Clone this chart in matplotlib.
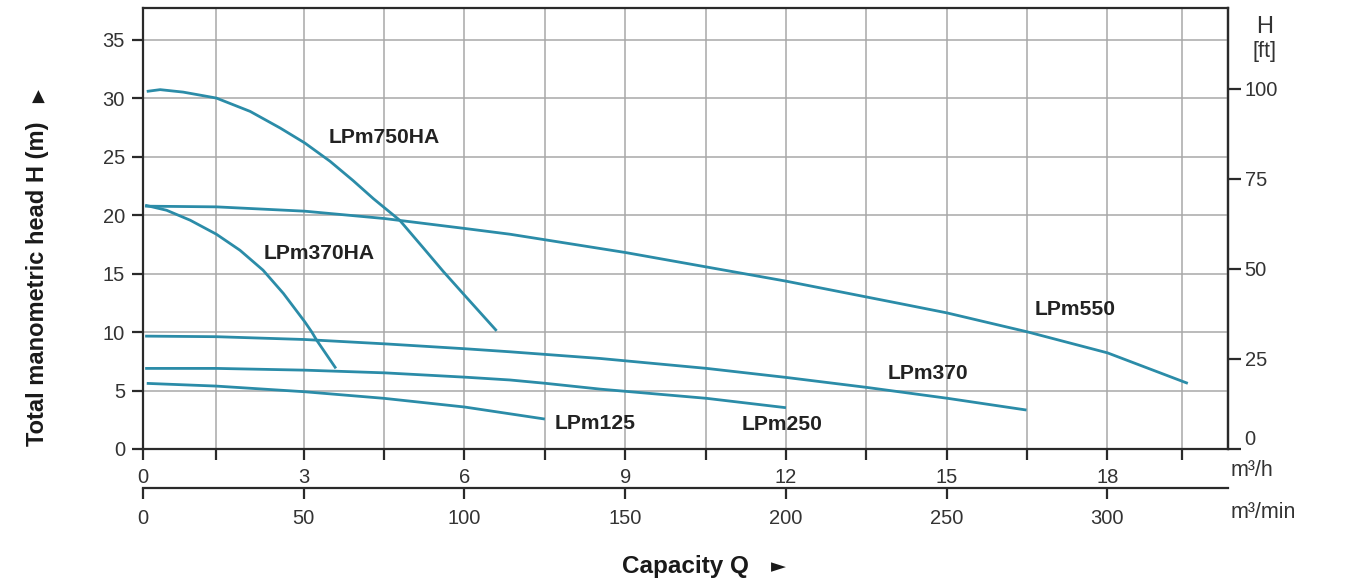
import matplotlib
matplotlib.use("Agg")
import matplotlib.pyplot as plt

plt.rcParams['font.family'] = ['Liberation Sans', 'DejaVu Sans']

# ---- data ----
lpm750ha_q = [0.07, 0.32, 0.75, 1.37, 2.0, 2.56, 3.02, 3.49, 3.92, 4.30, 4.79, 5.23, 5.60, 6.01, 6.6]
lpm750ha_h = [30.57, 30.72, 30.51, 30.0, 28.86, 27.44, 26.16, 24.6, 22.95, 21.4, 19.56, 17.2, 15.2, 13.1, 10.1]

lpm370ha_q = [0.04, 0.44, 0.88, 1.37, 1.81, 2.24, 2.62, 3.02, 3.15, 3.24, 3.60]
lpm370ha_h = [20.84, 20.41, 19.56, 18.36, 16.99, 15.29, 13.3, 10.87, 10.0, 9.31, 6.89]

lpm550_q = [0.04, 1.37, 3.02, 4.51, 6.01, 6.85, 9.0, 12.0, 14.12, 15.0, 16.5, 18.0, 19.5]
lpm550_h = [20.76, 20.7, 20.33, 19.7, 18.85, 18.36, 16.8, 14.35, 12.44, 11.64, 10.02, 8.22, 5.61]

lpm370_q = [0.04, 1.37, 3.02, 4.51, 6.01, 6.85, 8.53, 10.52, 12.0, 13.5, 15.02, 16.49]
lpm370_h = [9.65, 9.6, 9.36, 8.99, 8.57, 8.31, 7.74, 6.89, 6.12, 5.27, 4.33, 3.33]

lpm250_q = [0.04, 1.37, 3.02, 4.51, 6.01, 6.85, 7.5, 8.53, 10.52, 12.0]
lpm250_h = [6.89, 6.89, 6.74, 6.51, 6.14, 5.9, 5.62, 5.12, 4.33, 3.53]

lpm125_q = [0.07, 1.36, 3.0, 4.5, 6.0, 7.5]
lpm125_h = [5.61, 5.38, 4.9, 4.33, 3.59, 2.56]

series_names = ['LPm750HA', 'LPm370HA', 'LPm550', 'LPm370', 'LPm250', 'LPm125']
label_q = [4.51, 3.28, 17.39, 14.65, 11.92, 8.43]
label_h = [26.64, 16.74, 11.96, 6.49, 2.13, 2.22]

q_ticks = [0, 3, 6, 9, 12, 15, 18]
q_grid = [1.37, 4.5, 7.5, 10.5, 13.5, 16.5, 19.4]
h_ticks = [0, 5, 10, 15, 20, 25, 30, 35]
lmin_ticks = [0, 50, 100, 150, 200, 250, 300]
ft_ticks = [0, 25, 50, 75, 100]

# ---- figure ----
W, H = 1348, 584
fig = plt.figure(figsize=(W / 100, H / 100), dpi=100)
L, R, T, B = 143, 1228, 8, 449
ax = fig.add_axes([L / W, 1 - B / H, (R - L) / W, (B - T) / H])

XMAX = 20.25
YMAX = 37.7
ax.set_xlim(0, XMAX)
ax.set_ylim(0, YMAX)

col = '#2b8ca8'
grid_col = '#a8a8a8'
dark = '#2a2a2a'
txt = '#333333'

# grid
for g in q_ticks[1:] + q_grid:
    ax.axvline(g, color=grid_col, lw=1.1, zorder=1)
for h in h_ticks[1:]:
    ax.axhline(h, color=grid_col, lw=1.1, zorder=1)

curves = [(lpm750ha_q, lpm750ha_h), (lpm370ha_q, lpm370ha_h), (lpm550_q, lpm550_h),
          (lpm370_q, lpm370_h), (lpm250_q, lpm250_h), (lpm125_q, lpm125_h)]
for (q, h) in curves:
    ax.plot(q, h, color=col, lw=2.0, solid_capstyle='butt', solid_joinstyle='round', zorder=3)

for name, x, y in zip(series_names, label_q, label_h):
    ax.text(x, y, name, fontsize=15.2, fontweight='bold', color='#222222',
            ha='center', va='center', zorder=4)

for s in ax.spines.values():
    s.set_color(dark)
    s.set_linewidth(1.6)

ax.set_yticks(h_ticks)
ax.set_yticklabels([str(v) for v in h_ticks])
ax.set_xticks(q_ticks)
ax.set_xticklabels([str(v) for v in q_ticks])
ax.set_xticks(q_grid, minor=True)
ax.tick_params(axis='both', which='major', direction='out', length=8, width=1.6,
               color=dark, labelsize=14.5, labelcolor=txt)
ax.tick_params(axis='x', which='minor', direction='out', length=8, width=1.6, color=dark)
ax.tick_params(axis='x', pad=6)
ax.tick_params(axis='y', pad=5)

# secondary bottom axis (L/min labelled m3/min)
sec = ax.secondary_xaxis(-(488 - B) / (B - T),
                         functions=(lambda q: q * 50.0 / 3.0, lambda v: v * 3.0 / 50.0))
sec.set_xticks(lmin_ticks)
sec.set_xticklabels([str(v) for v in lmin_ticks])
sec.tick_params(direction='out', length=8, width=1.6, color=dark, labelsize=14.5,
                labelcolor=txt, pad=7)
sec.spines['bottom'].set_color(dark)
sec.spines['bottom'].set_linewidth(1.6)

# right ft axis
FT = 3.245
sy = ax.secondary_yaxis('right', functions=(lambda m: m * FT, lambda f: f / FT))
sy.set_yticks(ft_ticks)
sy.set_yticklabels([str(v) for v in ft_ticks])
sy.tick_params(direction='out', length=9, width=1.6, color=dark, labelsize=14.5,
               labelcolor=txt, pad=3)
sy.spines['right'].set_color(dark)
sy.spines['right'].set_linewidth(1.6)
for lbl in sy.get_yticklabels():
    lbl.set_va('bottom' if lbl.get_text() == '0' else 'center_baseline')

# labels
fig.text(1265 / W, 1 - 27 / H, 'H', fontsize=17, color=txt, ha='center', va='center')
fig.text(1265 / W, 1 - 52 / H, '[ft]', fontsize=15.5, color=txt, ha='center', va='center')
fig.text(1231 / W, 1 - 470 / H, 'm³/h', fontsize=15.5, color=txt, ha='left', va='center')
fig.text(1231 / W, 1 - 512 / H, 'm³/min', fontsize=15.5, color=txt, ha='left', va='center')

fig.text(38 / W, 1 - 446 / H, 'Total manometric head H (m)', fontsize=17, fontweight='bold',
         color='#1a1a1a', rotation=90, ha='center', va='bottom')
fig.text(38 / W, 1 - 97 / H, '▲', fontsize=12, color='#1a1a1a', ha='center', va='center',
         family=['DejaVu Sans'])
fig.text(685 / W, 1 - 566 / H, 'Capacity Q', fontsize=17.5, fontweight='bold',
         color='#1a1a1a', ha='center', va='center')
fig.text(778 / W, 1 - 567 / H, '►', fontsize=14, color='#1a1a1a', ha='center', va='center',
         family=['DejaVu Sans'])

fig.savefig('out.png', dpi=100)
